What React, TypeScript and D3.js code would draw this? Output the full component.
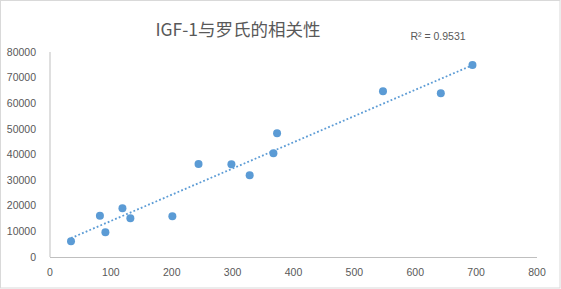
import React from "react";
import * as d3 from "d3";

const xValues = [34.5, 82, 91, 119, 132, 201, 244, 298, 328, 367, 373, 547, 642, 694];
const yValues = [6100, 16100, 9700, 19000, 15100, 15900, 36300, 36200, 31900, 40500, 48300, 64700, 63900, 74900];
const xTicks = [0, 100, 200, 300, 400, 500, 600, 700, 800];
const yTicks = [0, 10000, 20000, 30000, 40000, 50000, 60000, 70000, 80000];
const title = "IGF-1与罗氏的相关性";
const r2Label = "R² = 0.9531";

export default function App() {
  const W = 561, H = 289;
  const x = d3.scaleLinear().domain([0, 800]).range([50, 537]);
  const y = d3.scaleLinear().domain([0, 80000]).range([257, 52]);

  const n = xValues.length;
  const mx = d3.mean(xValues)!;
  const my = d3.mean(yValues)!;
  let sxy = 0, sxx = 0;
  for (let i = 0; i < n; i++) {
    sxy += (xValues[i] - mx) * (yValues[i] - my);
    sxx += (xValues[i] - mx) ** 2;
  }
  const slope = sxy / sxx;
  const intercept = my - slope * mx;
  const x0 = d3.min(xValues)!, x1 = d3.max(xValues)!;
  const line = d3.line<number>().x((d) => x(d)).y((d) => y(slope * d + intercept));

  const font = "'Liberation Sans', Arial, sans-serif";
  const textColor = "#595959";

  return (
    <svg width={W} height={H} style={{ position: "fixed", left: 0, top: 0 }} fontFamily={font}>
      <rect x={0} y={0} width={W} height={H} fill="#ffffff" />
      <rect x={0.5} y={0.5} width={W - 1.5} height={H - 1.5} fill="none" stroke="#d9d9d9" />
      <text x={238} y={36} textAnchor="middle" fontSize={17.5} fill={textColor}
        fontFamily="'Noto Sans CJK SC', 'Liberation Sans', sans-serif">{title}</text>
      {/* axes */}
      <line x1={x(0)} x2={x(0)} y1={y(80000)} y2={y(0)} stroke="#bfbfbf" />
      <line x1={x(0)} x2={x(800)} y1={y(0) + 0.5} y2={y(0) + 0.5} stroke="#bfbfbf" />
      {yTicks.map((t) => (
        <text key={"y" + t} x={36} y={y(t)} dy="0.35em" textAnchor="end" fontSize={10.5} fill={textColor}>{t}</text>
      ))}
      {xTicks.map((t) => (
        <text key={"x" + t} x={x(t)} y={272} dy="0.35em" textAnchor="middle" fontSize={10.5} fill={textColor}>{t}</text>
      ))}
      <path d={line([x0, x1])!} fill="none" stroke="#5b9bd5" strokeWidth={1.8} strokeDasharray="1.8,2.2" />
      {xValues.map((xv, i) => (
        <circle key={i} cx={x(xv)} cy={y(yValues[i])} r={4} fill="#5b9bd5" />
      ))}
      <text x={438} y={36} dy="0.35em" textAnchor="middle" fontSize={10.5} fill={textColor}>{r2Label}</text>
    </svg>
  );
}
